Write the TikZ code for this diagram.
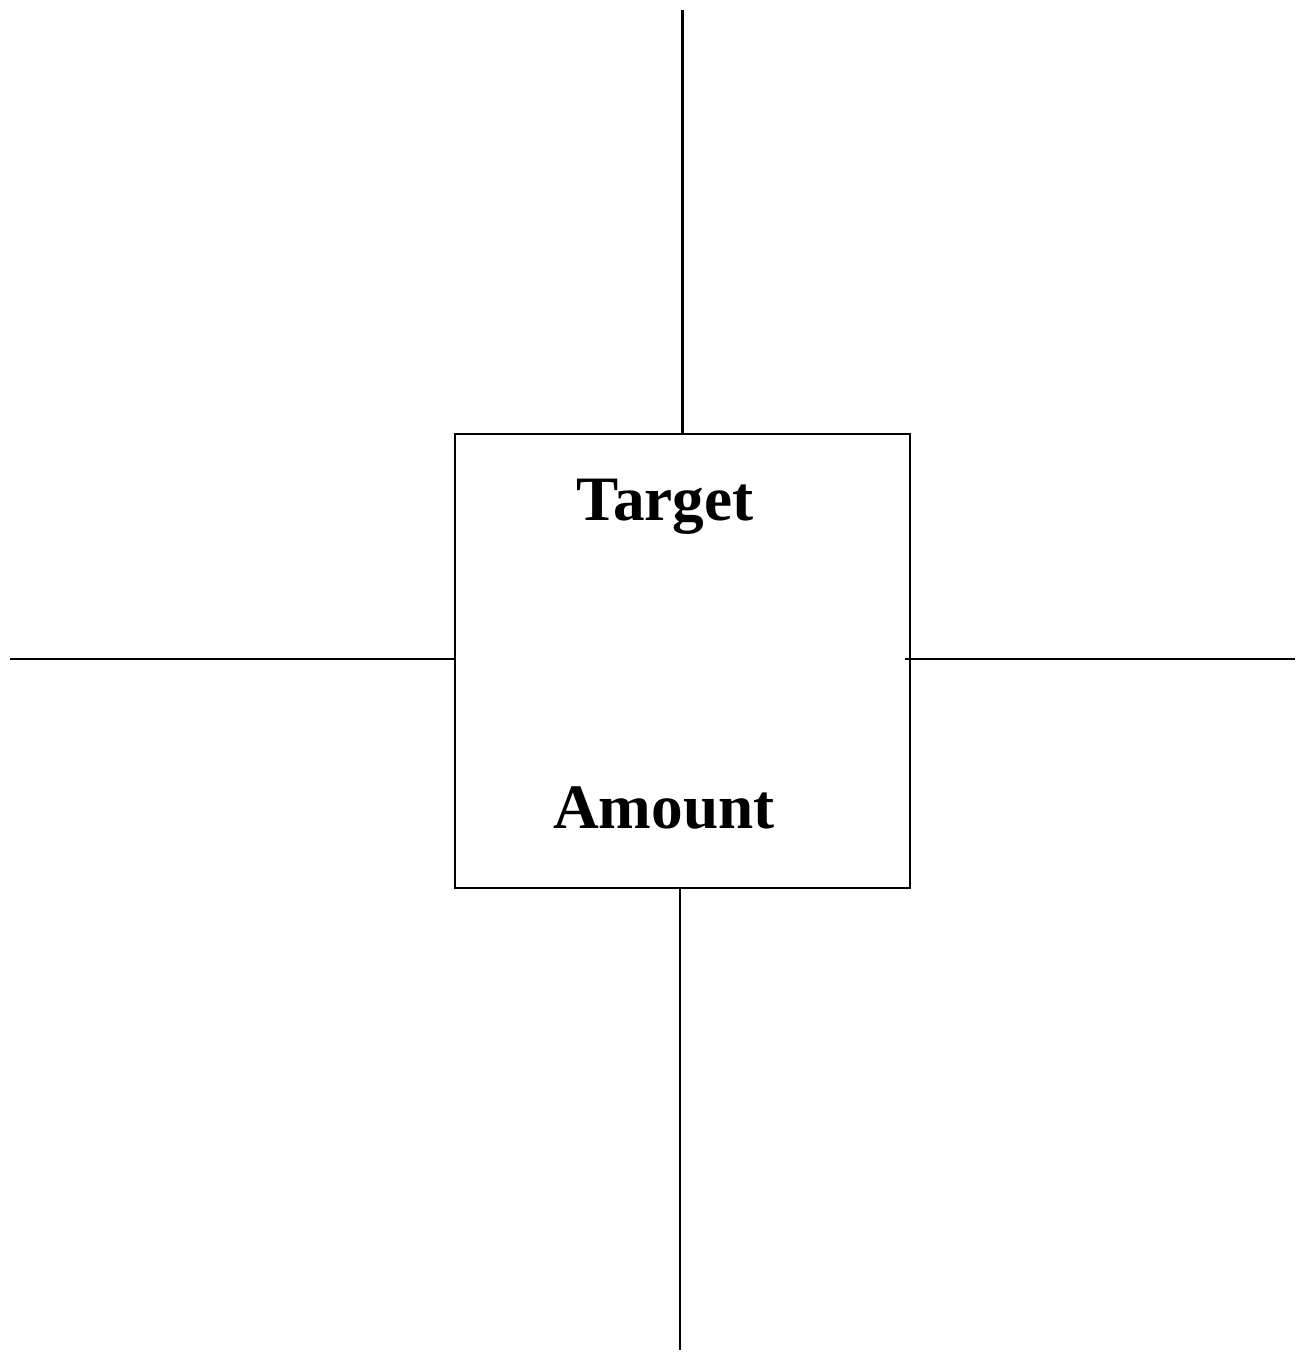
\documentclass[tikz,border=0pt]{standalone}
\usepackage{fontspec}
\setmainfont{Liberation Serif}
\usetikzlibrary{positioning}
\tikzstyle{box}=[draw, line width=1.4pt, minimum width=9.1cm, minimum height=9.08cm,
                 inner sep=0pt, outer sep=0pt]
\tikzstyle{lbl}=[font=\fontsize{36}{40}\selectfont\bfseries, anchor=base, inner sep=0pt]
\tikzstyle{ln}=[line width=1.4pt]

\begin{document}
\begin{tikzpicture}[x=0.02cm, y=-0.02cm]
    \useasboundingbox (0,0) rectangle (1295,1359);
    % centre box
    \node[box] (tgt) at (682.5,661) {};
    \node[lbl] (target) at (665,520) {Target};
    \node[lbl] (amount) at (664,828) {Amount};
    % axis ends
    \coordinate (topend) at (682.5,10);
    \coordinate (botstart) at (680,888);
    \coordinate (botend) at (680,1350);
    \coordinate (leftend) at (10,659);
    \coordinate (rightstart) at (905,659);
    \coordinate (rightend) at (1295,659);
    \draw[ln] (tgt.north) -- (topend);
    \draw[ln] (botstart) -- (botend);
    \draw[ln] (tgt.west |- leftend) -- (leftend);
    \draw[ln] (rightstart) -- (rightend);
  \end{tikzpicture}
\end{document}
